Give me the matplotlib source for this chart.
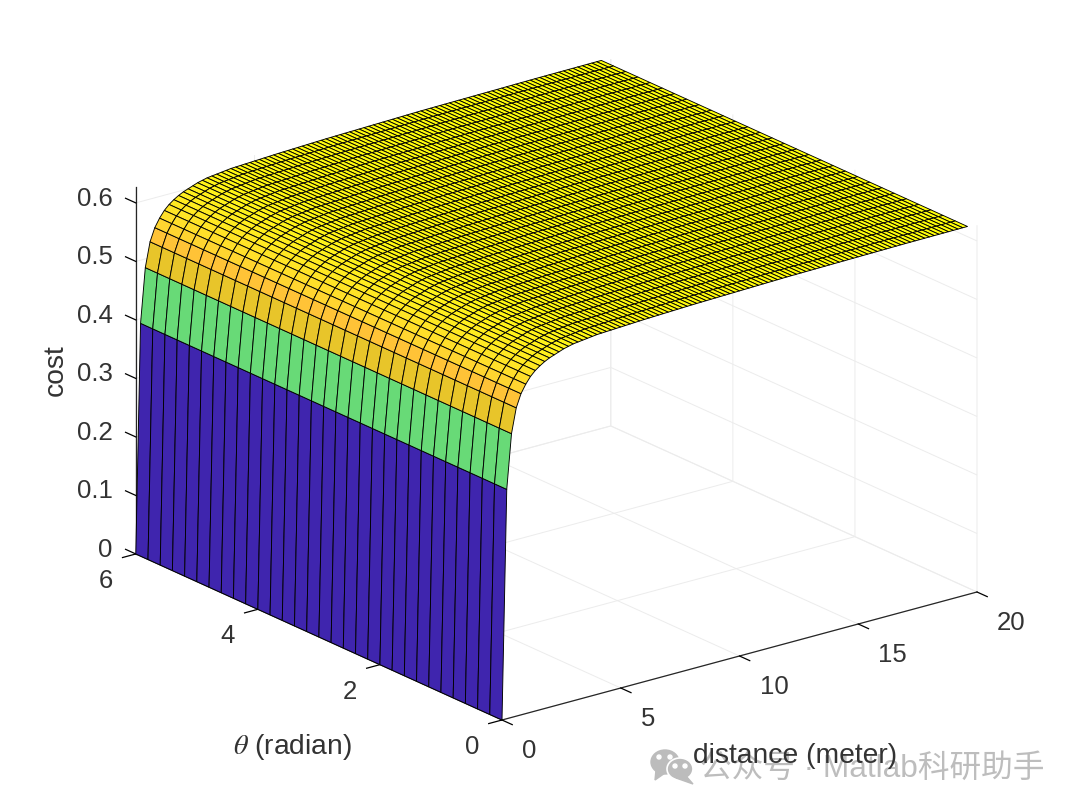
import numpy as np
import matplotlib
matplotlib.use("Agg")
from matplotlib import pyplot as plt
from matplotlib.colors import LinearSegmentedColormap
from matplotlib.patches import Ellipse, Polygon
from mpl_toolkits.mplot3d import proj3d

plt.rcParams['font.family'] = ['Liberation Sans', 'Noto Sans CJK SC', 'DejaVu Sans']
plt.rcParams['mathtext.fontset'] = 'stix'

# values
theta = [0.0, 0.2, 0.4, 0.6, 0.8, 1.0, 1.2, 1.4, 1.6, 1.8, 2.0, 2.2, 2.4, 2.6, 2.8, 3.0,
         3.2, 3.4, 3.6, 3.8, 4.0, 4.2, 4.4, 4.6, 4.8, 5.0, 5.2, 5.4, 5.6, 5.8, 6.0]
distance = [0.0, 0.2, 0.4, 0.6, 0.8, 1.0, 1.2, 1.4, 1.6, 1.8,
            2.0, 2.2, 2.4, 2.6, 2.8, 3.0, 3.2, 3.4, 3.6, 3.8,
            4.0, 4.2, 4.4, 4.6, 4.8, 5.0, 5.2, 5.4, 5.6, 5.8,
            6.0, 6.2, 6.4, 6.6, 6.8, 7.0, 7.2, 7.4, 7.6, 7.8,
            8.0, 8.2, 8.4, 8.6, 8.8, 9.0, 9.2, 9.4, 9.6, 9.8,
            10.0, 10.2, 10.4, 10.6, 10.8, 11.0, 11.2, 11.4, 11.6, 11.8,
            12.0, 12.2, 12.4, 12.6, 12.8, 13.0, 13.2, 13.4, 13.6, 13.8,
            14.0, 14.2, 14.4, 14.6, 14.8, 15.0, 15.2, 15.4, 15.6, 15.8,
            16.0, 16.2, 16.4, 16.6, 16.8, 17.0, 17.2, 17.4, 17.6, 17.8,
            18.0, 18.2, 18.4, 18.6, 18.8, 19.0, 19.2, 19.4, 19.6]
cost = [0.000, 0.392, 0.485, 0.527, 0.549, 0.563, 0.574, 0.582, 0.588, 0.593,
        0.597, 0.600, 0.603, 0.606, 0.608, 0.610, 0.611, 0.612, 0.613, 0.614,
        0.615, 0.6154, 0.6158, 0.6162, 0.6166, 0.617, 0.6174, 0.6178, 0.6182, 0.6186,
        0.619, 0.6193, 0.6196, 0.6199, 0.6202, 0.6205, 0.6208, 0.6211, 0.6214, 0.6217,
        0.622, 0.6222, 0.6224, 0.6226, 0.6228, 0.623, 0.6232, 0.6234, 0.6236, 0.6238,
        0.624, 0.6242, 0.6244, 0.6246, 0.6248, 0.625, 0.6252, 0.6254, 0.6256, 0.6258,
        0.626, 0.6261, 0.6262, 0.6263, 0.6264, 0.6265, 0.6266, 0.6267, 0.6268, 0.6269,
        0.627, 0.6271, 0.6272, 0.6273, 0.6274, 0.6275, 0.6276, 0.6277, 0.6278, 0.6279,
        0.628, 0.6281, 0.6282, 0.6283, 0.6284, 0.6285, 0.6285, 0.6286, 0.6286, 0.6287,
        0.6287, 0.6288, 0.6288, 0.6289, 0.6289, 0.629, 0.629, 0.6291, 0.6291]
distance_ticks = [0, 5, 10, 15, 20]
theta_ticks = [0, 2, 4, 6]
cost_ticks = [0, 0.1, 0.2, 0.3, 0.4, 0.5, 0.6]
cost_tick_labels = ['0', '0.1', '0.2', '0.3', '0.4', '0.5', '0.6']
color_levels = [0.0, 0.392, 0.485, 0.527, 0.56, 0.60, 0.631]
color_values = ['#3F25AE', '#66DA78', '#E8C52A', '#FFC337', '#FFDD2C', '#FFF01C', '#FFFF08']

text_color = '#333333'
cmap = LinearSegmentedColormap.from_list(
    'cost', [(v / color_levels[-1], c) for v, c in zip(color_levels, color_values)])

D, T = np.meshgrid(distance, theta)
Z = np.tile(np.array(cost), (len(theta), 1))

fig = plt.figure(figsize=(10.8, 8.09), dpi=100, facecolor='white')
ax = fig.add_axes([0, 0, 0.749, 1], projection='3d', facecolor='none')
ax.set_proj_type('ortho')
ax.view_init(elev=20.46, azim=232.37)
ax.set_xlim(0, 20)
ax.set_ylim(0, 6)
ax.set_zlim(0, 0.627)
ax.set_box_aspect((600, 600, 391.7))

ax.plot_surface(D, T, Z, facecolors=cmap(Z / color_levels[-1]), edgecolor='black',
                linewidth=0.65, shade=False, rcount=len(theta), ccount=len(distance),
                antialiased=True)

ax.set_xticks(distance_ticks)
ax.set_yticks(theta_ticks)
ax.set_zticks(cost_ticks)
ax.set_xticklabels([])
ax.set_yticklabels([])
ax.set_zticklabels([])
ax.zaxis._AXINFO['z']['tickdir'] = 1  # z ticks run along theta
for axis, out in ((ax.xaxis, -0.35), (ax.yaxis, -0.35), (ax.zaxis, 0.35)):
    axis.set_pane_color((1, 1, 1, 0))
    axis.pane.set_edgecolor('#dcdcdc')
    axis.line.set_color('#262626')
    axis.line.set_linewidth(0.9)
    axis._axinfo['grid'].update(color='#ececec', linewidth=0.7)
    axis._axinfo['tick'].update(inward_factor=0.0, outward_factor=out, color='#262626')
    axis._axinfo['tick']['linewidth'] = {True: 0.9, False: 0.9}

# fit the projected box on the figure: floor corners at (502,720) and (977,592) px
fig.canvas.draw()
u0, v0, _ = proj3d.proj_transform(0, 0, 0, ax.get_proj())
u1, v1, _ = proj3d.proj_transform(20, 0, 0, ax.get_proj())
lim = ax.viewLim
scale = 475.0 / (u1 - u0)
side = scale * (lim.x1 - lim.x0)
left = 502 - scale * (u0 - lim.x0)
bottom = (809 - 720) - scale * (v0 - lim.y0)
ax.set_position([left / 1080, bottom / 809, side / 1080, side / 809])
fig.canvas.draw()


def to_pixels(x, y, z):
    u, v, _ = proj3d.proj_transform(x, y, z, ax.get_proj())
    px, py = ax.transData.transform((u, v))
    return px, 809 - py


# overlay in pixel coordinates for the flat labels and the watermark
over = fig.add_axes([0, 0, 1, 1], facecolor='none')
over.set_xlim(0, 1080)
over.set_ylim(809, 0)
over.axis('off')
grey = '#bcbcbc'
over.add_patch(Ellipse((665, 762), 28, 24, color=grey))
over.add_patch(Polygon([[656, 770], [655, 780], [665, 773]], closed=True, color=grey))
over.add_patch(Ellipse((680, 769), 26, 22, facecolor=grey, edgecolor='white', linewidth=1.2))
over.add_patch(Polygon([[686, 776], [693, 784], [676, 778]], closed=True, color=grey))
for cx, cy in [(659, 757), (670, 757), (675, 766), (685, 766)]:
    over.add_patch(Ellipse((cx, cy), 4, 4, color='white'))
over.text(700, 769, '公众号 · Matlab科研助手', fontsize=22.8, color='#bdbdbd',
          ha='left', va='center')

for d in distance_ticks:
    px, py = to_pixels(d, 0, 0)
    over.text(px + 20, py + 31, str(d), fontsize=18.5, color=text_color, ha='left', va='center')
for t in theta_ticks:
    px, py = to_pixels(0, t, 0)
    over.text(px - 30, py + 27, str(t), fontsize=18.5, color=text_color, ha='center', va='center')
for c, label in zip(cost_ticks, cost_tick_labels):
    px, py = to_pixels(0, 6, c)
    over.text(px - 23, py - 4, label, fontsize=18.5, color=text_color, ha='right', va='center')

over.text(795.5, 756, 'distance (meter)', fontsize=20.3, color=text_color, ha='center', va='center')
over.text(292, 747, r'$\theta$ (radian)', fontsize=20.3, color=text_color, ha='center', va='center')
over.text(56, 370, 'cost', fontsize=20.3, color=text_color, rotation=90, ha='center', va='center')

plt.savefig('out.png', dpi=100)
